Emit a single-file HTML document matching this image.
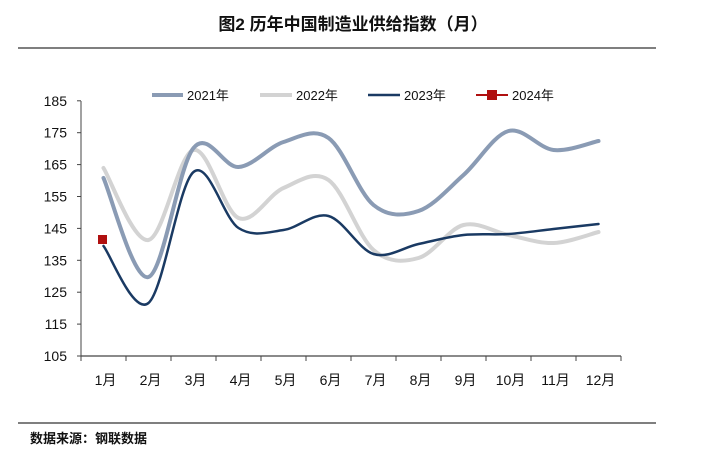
<!DOCTYPE html>
<html><head><meta charset="utf-8"><style>
body{margin:0;background:#fff;width:706px;height:451px;overflow:hidden;font-family:"Liberation Sans","Noto Sans CJK SC",sans-serif;}
</style></head><body>
<svg width="706" height="451" xmlns="http://www.w3.org/2000/svg" font-family="Liberation Sans, Noto Sans CJK SC, sans-serif">
<rect x="0" y="0" width="706" height="451" fill="#fff"/>
<text x="353" y="30" text-anchor="middle" font-size="17" font-weight="bold" fill="#111">图2 历年中国制造业供给指数（月）</text>
<line x1="18" y1="48" x2="656" y2="48" stroke="#333" stroke-width="1.2"/>
<line x1="18" y1="423" x2="656" y2="423" stroke="#333" stroke-width="1.2"/>
<text x="30" y="443" font-size="13" font-weight="bold" fill="#111">数据来源：钢联数据</text>
<g font-size="13" fill="#111">
<line x1="152" y1="95" x2="183" y2="95" stroke="#8a9bb4" stroke-width="4"/><text x="187" y="100">2021年</text>
<line x1="260" y1="95" x2="292" y2="95" stroke="#d3d3d3" stroke-width="4"/><text x="296" y="100">2022年</text>
<line x1="368" y1="95" x2="400" y2="95" stroke="#1a3a63" stroke-width="2.5"/><text x="404" y="100">2023年</text>
<line x1="476" y1="95" x2="508" y2="95" stroke="#b01010" stroke-width="2"/><rect x="487" y="90" width="10" height="10" fill="#b01010"/><text x="512" y="100">2024年</text>
</g>
<g font-size="14" fill="#111" text-anchor="end" id="yl"></g>
<line x1="81" y1="101" x2="81" y2="356" stroke="#444" stroke-width="1"/>
<line x1="81" y1="356" x2="621" y2="356" stroke="#444" stroke-width="1.2"/>
<g id="ticks" stroke="#444"></g>
<g font-size="14" fill="#111" text-anchor="middle" id="xl"></g>
<path id="s22" fill="none" stroke="#d3d3d3" stroke-width="4" stroke-linecap="round"/>
<path id="s21" fill="none" stroke="#8a9bb4" stroke-width="4" stroke-linecap="round"/>
<path id="s23" fill="none" stroke="#1a3a63" stroke-width="2.5" stroke-linecap="round"/>
<rect x="98" y="235" width="9" height="9" fill="#b01010"/>
</svg>
<script>
var ns="http://www.w3.org/2000/svg";
function el(t,a,p,txt){var e=document.createElementNS(ns,t);for(var k in a)e.setAttribute(k,a[k]);if(txt)e.textContent=txt;document.getElementById(p).appendChild(e);}
for(var i=0;i<9;i++){var v=105+i*10,y=356-i*31.9;el("text",{x:67,y:y+5},"yl",""+v);el("line",{x1:77,y1:y,x2:81,y2:y},"ticks");}
for(var i=0;i<=12;i++){var x=81+i*45;el("line",{x1:x,y1:356,x2:x,y2:361},"ticks");if(i<12)el("text",{x:103.5+i*45+2,y:385},"xl",(i+1)+"月");}
var d={
s21:[178,277,148,167,142,138,205,211,175,131,150,141],
s22:[168,240,150,218,188,180,250,258,225,235,243,232],
s23:[246,303,172,228,230,216,254,244,235,234,229,224]};
for(var k in d){var ys=d[k],p=[];for(var i=0;i<12;i++)p.push([103.5+i*45,ys[i]]);
var s="M"+p[0][0]+","+p[0][1];
for(var i=0;i<11;i++){var p0=p[Math.max(i-1,0)],p1=p[i],p2=p[i+1],p3=p[Math.min(i+2,11)],t=6;
s+=" C"+(p1[0]+(p2[0]-p0[0])/t)+","+(p1[1]+(p2[1]-p0[1])/t)+" "+(p2[0]-(p3[0]-p1[0])/t)+","+(p2[1]-(p3[1]-p1[1])/t)+" "+p2[0]+","+p2[1];}
document.getElementById(k).setAttribute("d",s);}
</script>
</body></html>
